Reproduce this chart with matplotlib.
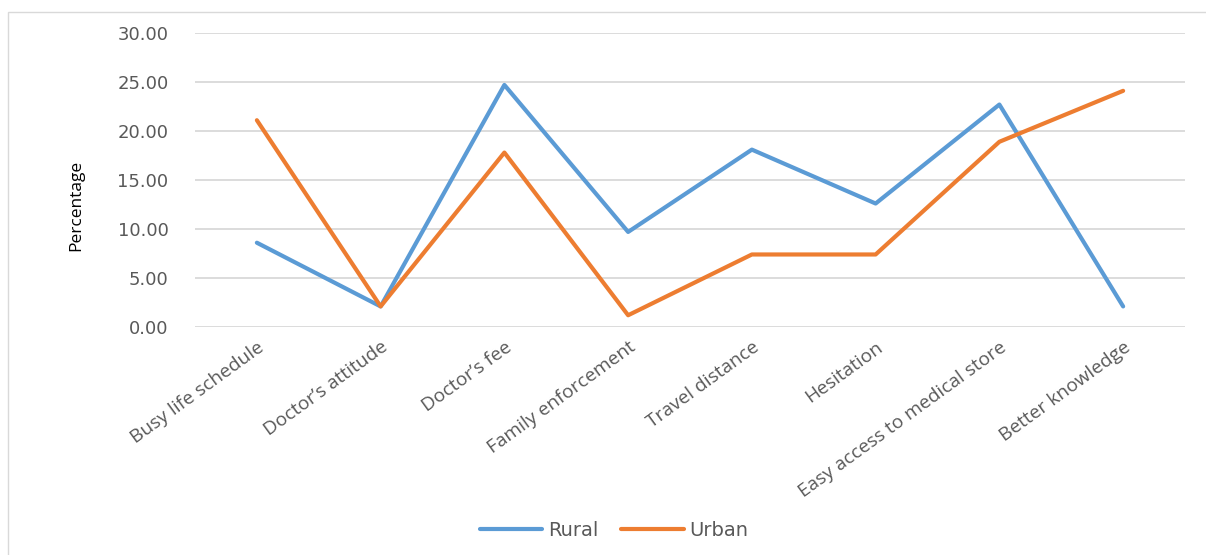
import matplotlib.pyplot as plt
from matplotlib.patches import Rectangle
from matplotlib.font_manager import FontProperties

# Reasons given for self-medication, by area of residence (% of respondents)
categories = [
    "Busy life schedule", "Doctor\u2019s attitude", "Doctor\u2019s fee",
    "Family enforcement", "Travel distance", "Hesitation",
    "Easy access to medical store", "Better knowledge",
]
rural = [8.6, 2.1, 24.7, 9.7, 18.1, 12.6, 22.7, 2.1]
urban = [21.1, 2.1, 17.8, 1.2, 7.4, 7.4, 18.9, 24.1]
y_ticks = [0, 5, 10, 15, 20, 25, 30]

RURAL_COLOR = "#5B9BD5"
URBAN_COLOR = "#ED7D31"
GRID_COLOR = "#D9D9D9"
TEXT_COLOR = "#595959"

fig = plt.figure(figsize=(12.06, 5.55), dpi=100)
W, H = 1206, 555
ax = fig.add_axes([195 / W, 1 - 327 / H, (1185 - 195) / W, (327 - 33) / H])

# light chart frame (left and top edges visible)
fig.patches.append(Rectangle((8 / W, -0.05), 1.1, 1 - 12 / H + 0.05,
                             transform=fig.transFigure, fill=False,
                             edgecolor=GRID_COLOR, linewidth=1.0))

x = list(range(len(categories)))
ax.plot(x, rural, color=RURAL_COLOR, linewidth=3.0, label="Rural",
        solid_joinstyle="round", solid_capstyle="round", zorder=3)
ax.plot(x, urban, color=URBAN_COLOR, linewidth=3.0, label="Urban",
        solid_joinstyle="round", solid_capstyle="round", zorder=3)

ax.set_xlim(-0.5, len(categories) - 0.5)
ax.set_ylim(0, 30)
ax.set_yticks(y_ticks)
ax.set_yticklabels([f"{v:.2f}" for v in y_ticks], fontsize=13,
                   color=TEXT_COLOR, family="DejaVu Sans")
ax.yaxis.grid(True, color=GRID_COLOR, linewidth=1.3)
ax.set_axisbelow(True)
ax.tick_params(axis="y", length=0, pad=19)
ax.tick_params(axis="x", length=0, pad=8)
for side in ["left", "right", "top", "bottom"]:
    ax.spines[side].set_visible(False)

ax.set_xticks(x)
ax.set_xticklabels(categories, rotation=36, ha="right", rotation_mode="anchor",
                   fontsize=13.8, color=TEXT_COLOR, family="Open Sans")

ax.set_ylabel("Percentage", fontsize=12.5, color="black", family="Open Sans")
ax.yaxis.set_label_coords((84 - 195) / 990, (327 - 205) / 294)

fig.legend(loc="center", bbox_to_anchor=(614 / W, 1 - 530 / H), ncol=2,
           frameon=False, handlelength=3.2, columnspacing=1.2,
           handletextpad=0.3,
           prop=FontProperties(family="DejaVu Sans", size=14))
for t in fig.legends[0].get_texts():
    t.set_color(TEXT_COLOR)

fig.savefig("out.png", dpi=100, facecolor="white")
